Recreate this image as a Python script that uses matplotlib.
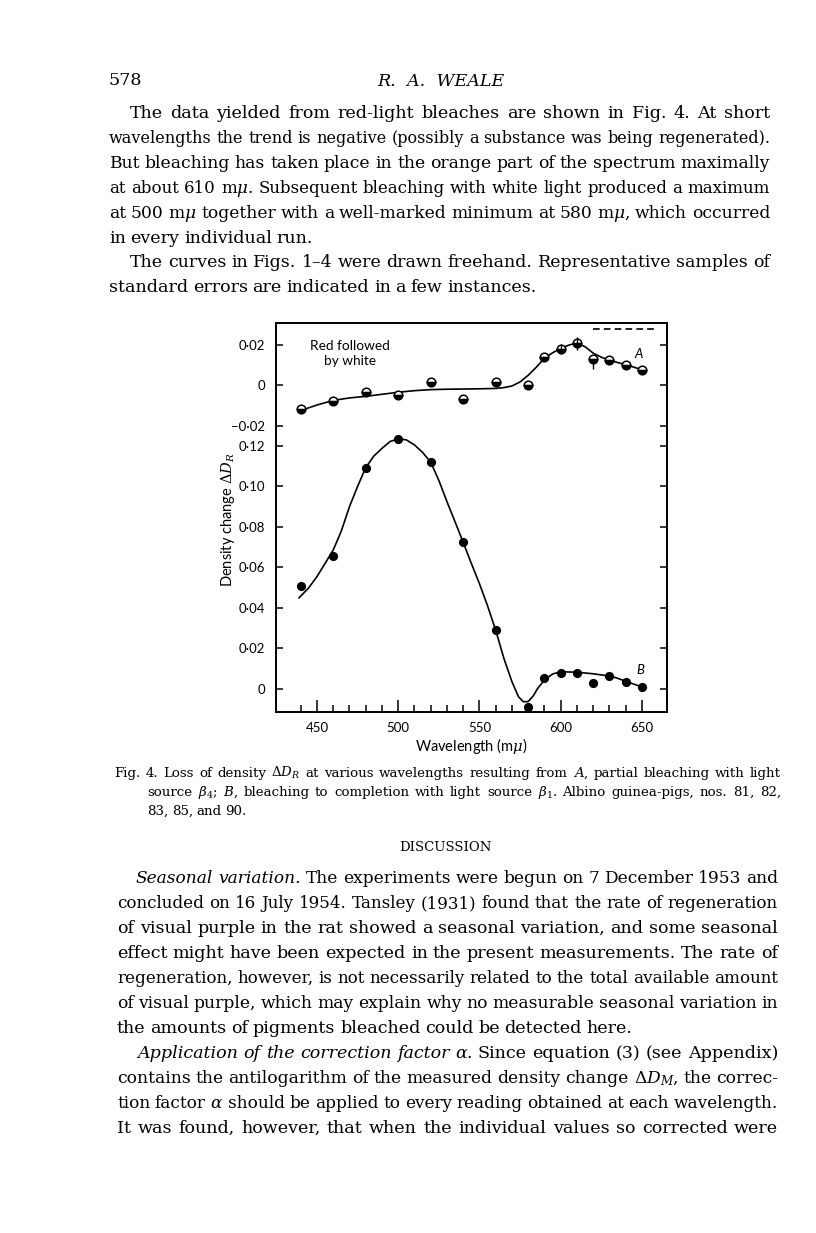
import matplotlib
matplotlib.use("Agg")
import matplotlib.pyplot as plt
from matplotlib.ticker import FixedLocator

W, H, DPI = 816, 1233, 100
SERIF = ["DejaVu Serif"]
SANS = ["Lato", "DejaVu Sans"]
plt.rcParams["mathtext.fontset"] = "dejavuserif"

# --- Fig. 4 data ---
wavelength = [440, 460, 480, 500, 520, 540, 560, 580, 590, 600, 610, 620, 630, 640, 650]
# A: red followed by white (own scale, drawn above B)
dens_a = [-0.012, -0.0077, -0.0034, -0.005, 0.0015, -0.007, 0.0018, 0.0,
          0.0141, 0.018, 0.0206, 0.0128, 0.0125, 0.0102, 0.0077]
# B: bleaching to completion
dens_b = [0.051, 0.0655, 0.1093, 0.1236, 0.1121, 0.0724, 0.029, -0.0087,
          0.0056, 0.008, 0.0077, 0.0028, 0.0064, 0.0036, 0.0011]

# freehand curves
curve_a_wl = [440, 450, 460, 470, 480, 490, 500, 510, 520, 530, 540, 550, 560, 565,
              570, 575, 580, 585, 590, 595, 600, 605, 610, 615, 620, 625, 630, 635,
              640, 645, 650]
curve_a = [-0.0125, -0.0098, -0.0075, -0.0063, -0.0055, -0.0045, -0.0035, -0.0027,
           -0.0022, -0.002, -0.0019, -0.0018, -0.0016, -0.0012, -0.0004, 0.0016,
           0.0049, 0.0089, 0.0133, 0.016, 0.0181, 0.0198, 0.0208, 0.019, 0.0158,
           0.0138, 0.0124, 0.0112, 0.0101, 0.0089, 0.0076]
curve_b_wl = [439, 445, 450, 455, 460, 465, 470, 475, 480, 485, 490, 495, 500, 505,
              510, 515, 520, 525, 530, 535, 540, 545, 550, 555, 560, 565, 570, 574,
              577, 580, 583, 586, 590, 595, 600, 610, 620, 630, 635, 640, 645, 650]
curve_b = [0.045, 0.05, 0.0555, 0.062, 0.0686, 0.078, 0.09, 0.1, 0.1093, 0.115,
           0.1188, 0.1222, 0.1235, 0.123, 0.1205, 0.1168, 0.112, 0.103, 0.0925,
           0.0825, 0.0724, 0.062, 0.052, 0.041, 0.029, 0.0152, 0.0036, -0.0038,
           -0.0063, -0.0062, -0.0035, 0.0005, 0.0044, 0.0074, 0.0085, 0.0083,
           0.0075, 0.0064, 0.0053, 0.0038, 0.0024, 0.001]

# standard errors shown on a few points of A
err_wl = [600, 610, 620]
err_lo = [0.0025, 0.003, 0.0048]
err_hi = [0.0025, 0.003, 0.0]

dash_wl = [620, 658]
dash_a = 0.0278

A_OFFSET = 0.15  # A's zero sits 0.15 above B's zero
ticks_b = [0, 0.02, 0.04, 0.06, 0.08, 0.10, 0.12]
ticks_a = [-0.02, 0, 0.02]


def fmt(v):
    s = "%.2f" % abs(v)
    s = "0" if abs(v) < 1e-9 else s.replace(".", "\u00b7")
    return ("\u2212" + s) if v < 0 else s


# --- page text ---
header_left = "578"
header_mid = "R.  A.  WEALE"

para1 = [
    "The data yielded from red-light bleaches are shown in Fig. 4. At short",
    "wavelengths the trend is negative (possibly a substance was being regenerated).",
    "But bleaching has taken place in the orange part of the spectrum maximally",
    "at about 610 m$\\mu$. Subsequent bleaching with white light produced a maximum",
    "at 500 m$\\mu$ together with a well-marked minimum at 580 m$\\mu$, which occurred",
    "in every individual run.",
]
para2 = [
    "The curves in Figs. 1\u20134 were drawn freehand. Representative samples of",
    "standard errors are indicated in a few instances.",
]
caption = [
    "Fig. 4. Loss of density $\\Delta{D}_R$ at various wavelengths resulting from $A$, partial bleaching with light",
    "source $\\beta_4$; $B$, bleaching to completion with light source $\\beta_1$. Albino guinea-pigs, nos. 81, 82,",
    "83, 85, and 90.",
]
para3 = [
    "*Seasonal *variation. The experiments were begun on 7 December 1953 and",
    "concluded on 16 July 1954. Tansley (1931) found that the rate of regeneration",
    "of visual purple in the rat showed a seasonal variation, and some seasonal",
    "effect might have been expected in the present measurements. The rate of",
    "regeneration, however, is not necessarily related to the total available amount",
    "of visual purple, which may explain why no measurable seasonal variation in",
    "the amounts of pigments bleached could be detected here.",
]
para4 = [
    "*Application *of *the *correction *factor $\\alpha$. Since equation (3) (see Appendix)",
    "contains the antilogarithm of the measured density change $\\Delta{D}_M$, the correc-",
    "tion factor $\\alpha$ should be applied to every reading obtained at each wavelength.",
    "It was found, however, that when the individual values so corrected were",
]

fig = plt.figure(figsize=(W / DPI, H / DPI), dpi=DPI)
page = fig.add_axes([0, 0, 1, 1])
page.set_xlim(0, W)
page.set_ylim(H, 0)
page.axis("off")
renderer = fig.canvas.get_renderer()


def set_line(x0, x1, y, line, size, justify=True):
    arts = []
    for w in line.split(" "):
        style = "normal"
        if w.startswith("*"):
            w, style = w[1:], "italic"
        arts.append(page.text(x0, y, w, fontsize=size, fontstyle=style, family=SERIF,
                              ha="left", va="baseline"))

    def measure(sz):
        for t in arts:
            t.set_fontsize(sz)
        return [t.get_window_extent(renderer).width for t in arts]

    widths = measure(size)
    space = 0.27 * size * DPI / 72
    need = sum(widths) + space * (len(arts) - 1)
    if justify and need > x1 - x0:
        size = size * (x1 - x0) / need * 0.995
        widths = measure(size)
        space = 0.27 * size * DPI / 72
    gap = space
    if justify and len(arts) > 1:
        gap = (x1 - x0 - sum(widths)) / (len(arts) - 1)
    x = x0
    for t, w in zip(arts, widths):
        t.set_x(x)
        x += w + gap


BODY = 12.6
CAP = 9.6
page.text(109, 85, header_left, fontsize=BODY, family=SERIF, va="baseline")
page.text(441, 86, header_mid, fontsize=BODY, family=SERIF, fontstyle="italic",
          ha="center", va="baseline")

for i, line in enumerate(para1):
    set_line(109 + (21 if i == 0 else 0), 770, 118.3 + i * 24.86, line, BODY,
             justify=i < len(para1) - 1)
for i, line in enumerate(para2):
    set_line(109 + (21 if i == 0 else 0), 770, 118.3 + (6 + i) * 24.86, line, BODY,
             justify=i < len(para2) - 1)

# caption with hanging indent
set_line(114, 781, 776.7, caption[0], CAP)
set_line(147, 781, 796, caption[1], CAP)
set_line(147, 781, 815.2, caption[2], CAP, justify=False)

page.text(445, 851, "DISCUSSION", fontsize=9.5, family=SERIF, ha="center", va="baseline")

for i, line in enumerate(para3):
    set_line(117 + (19 if i == 0 else 0), 778, 883.3 + i * 25, line, BODY,
             justify=i < len(para3) - 1)
for i, line in enumerate(para4):
    set_line(117 + (20 if i == 0 else 0), 778, 1058.3 + i * 25, line, BODY)

# --- the chart ---
ax = fig.add_axes([276 / W, 1 - 712 / H, 391 / W, 389 / H])
ax.set_facecolor("none")
ax.set_xlim(424.8, 665.4)
ax.set_ylim(-0.01136, 0.1807)

ax.plot(curve_b_wl, curve_b, color="black", lw=1.2, zorder=2)
ax.plot(curve_a_wl, [v + A_OFFSET for v in curve_a], color="black", lw=1.2, zorder=2)

ax.plot(wavelength, dens_b, "o", ms=5.6, color="black", zorder=3)
ax.plot(wavelength, [v + A_OFFSET for v in dens_a], "o", ms=6.2, fillstyle="bottom",
        markerfacecolor="black", markerfacecoloralt="white", markeredgecolor="black",
        markeredgewidth=1.1, zorder=3)

err_y = [dens_a[wavelength.index(w)] + A_OFFSET for w in err_wl]
ax.errorbar(err_wl, err_y, yerr=[err_lo, err_hi], fmt="none", ecolor="black",
            elinewidth=1.0, capsize=0, zorder=4)

ax.plot(dash_wl, [dash_a + A_OFFSET] * 2, color="black", lw=1.2, ls=(0, (4, 2.5)))

ax.text(470.3, 0.1657, "Red followed\nby white", ha="center", va="center",
        fontsize=9.8, family=SANS, linespacing=1.35)
ax.text(648, 0.0156 + A_OFFSET, "A", fontsize=9.5, family=SANS, fontstyle="italic",
        ha="center", va="center")
ax.text(649, 0.0094, "B", fontsize=9.5, family=SANS, fontstyle="italic",
        ha="center", va="center")

for s in ax.spines.values():
    s.set_linewidth(1.4)

ax.set_xticks([450, 500, 550, 600, 650])
ax.xaxis.set_minor_locator(FixedLocator([w for w in range(440, 651, 10) if w % 50]))
ax.set_xticklabels(["450", "500", "550", "600", "650"], family=SANS, fontsize=9.5)
ax.tick_params(axis="x", which="major", direction="in", length=8.6, width=1.1,
               pad=7, top=False)
ax.tick_params(axis="x", which="minor", direction="in", length=5, width=1.1, top=False)

ypos = ticks_b + [v + A_OFFSET for v in ticks_a]
ax.set_yticks(ypos)
ax.set_yticklabels([fmt(v) for v in ticks_b + ticks_a], family=SANS, fontsize=9.5)
ax.tick_params(axis="y", direction="in", length=5, width=1.1, pad=8,
               left=True, right=True)

ax.set_xlabel("Wavelength (m$\\mu$)", family=SANS, fontsize=10.5, labelpad=2)
fig.text(228 / W, 1 - 520 / H, "Density change $\\Delta D_R$", rotation=90,
         family=SANS, fontsize=10.5, ha="center", va="center")

fig.savefig("out.png", dpi=DPI)
